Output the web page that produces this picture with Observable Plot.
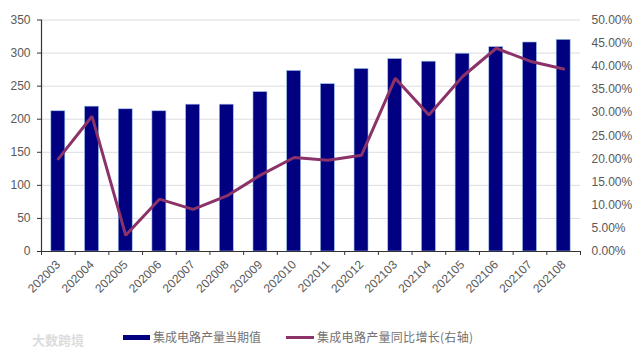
<!DOCTYPE html>
<html><head><meta charset="utf-8">
<script src="https://cdn.jsdelivr.net/npm/d3@7"></script>
<script src="https://cdn.jsdelivr.net/npm/@observablehq/plot@0.6"></script>
<style>
html,body{margin:0;padding:0;background:#fff;overflow:hidden}
#wrap{position:relative;width:642px;height:354px;font-family:"Liberation Sans",Arial,sans-serif}
.lg{position:absolute;top:328px;height:18px;font:12px/18px "Noto Sans CJK SC",sans-serif;color:#737373;white-space:nowrap}
.sw{position:absolute}
</style></head><body>
<div id="wrap"></div>
<script>
const months = ["202003","202004","202005","202006","202007","202008","202009","202010","202011","202012","202103","202104","202105","202106","202107","202108"];
const output = [212,219,215,212,222,222,241,273,253,276,291,287,299,309,316,320];
const yoy = [20,29.2,3.5,11.3,9.1,12,16.5,20.3,19.7,20.8,37.4,29.5,37.8,43.9,41.1,39.4];
const leftTicks = [0,50,100,150,200,250,300,350];
const rightTicks = [0,5,10,15,20,25,30,35,40,45,50];
const ratio = 7; // 50% on the right axis lines up with 350 on the left
const names = ["集成电路产量当期值","集成电路产量同比增长(右轴)"];
const mark = "大数跨境";

const rows = months.map((m,i)=>({m,v:output[i],p:yoy[i]}));
const W=642,H=320,ML=41,MR=62,step=(W-ML-MR)/months.length;
const chart = Plot.plot({
  width:W,height:H,marginLeft:ML,marginRight:MR,marginTop:19.5,marginBottom:69,
  style:{fontFamily:'"Liberation Sans",Arial,sans-serif',fontSize:"12px",color:"#595959",background:"#fff"},
  x:{domain:months,round:false,paddingInner:0.585,paddingOuter:0.2925,label:null},
  y:{domain:[0,350],label:null},
  marks:[
    Plot.gridY(leftTicks.slice(1),{stroke:"#dcdce2",strokeOpacity:1,strokeWidth:1}),
    Plot.barY(rows,{x:"m",y:"v",fill:"#000080",stroke:"#9cc3e6",strokeWidth:0.6}),
    Plot.line(rows,{x:"m",y:d=>d.p*ratio,stroke:"#8b3368",strokeWidth:3,strokeLinejoin:"miter"}),
    Plot.ruleY([0],{stroke:"#333",strokeWidth:1.2}),
    Plot.ruleX([months[0]],{dx:-step/2,stroke:"#333",strokeWidth:1.2}),
    Plot.axisY({ticks:leftTicks,tickSize:4,tickPadding:7,stroke:"#333",fill:"#595959",fontSize:12,label:null}),
    Plot.axisY({anchor:"right",ticks:rightTicks.map(d=>d*ratio),tickSize:0,tickPadding:11,fill:"#595959",fontSize:12,label:null,tickFormat:d=>(d/ratio).toFixed(2)+"%"}),
    Plot.axisX({ticks:months,tickSize:4,dx:-step/2,stroke:"#333",tickFormat:()=>"",label:null}),
    Plot.axisX({ticks:[months[months.length-1]],tickSize:4,dx:step/2,stroke:"#333",tickFormat:()=>"",label:null}),
    Plot.axisX({ticks:months,tickSize:0,tickRotate:-45,tickPadding:11,fill:"#595959",fontSize:12,label:null})
  ]
});
const wrap=document.getElementById("wrap");
wrap.appendChild(chart);
chart.style.display="block";
function add(cls,left,css,text){const e=document.createElement("div");e.className=cls;e.style.left=left+"px";if(css)e.style.cssText+=css;if(text)e.textContent=text;wrap.appendChild(e);}
add("sw",123,"top:334.5px;width:27px;height:5px;background:#000080");
add("lg",153,"",names[0]);
add("sw",286,"top:335.5px;width:28px;height:3px;background:#8b3368");
add("lg",317,"letter-spacing:0.3px",names[1]);
add("lg",32,"top:331px;color:#dcdcdc;font-size:13px;font-weight:700",mark);
</script>
</body></html>
